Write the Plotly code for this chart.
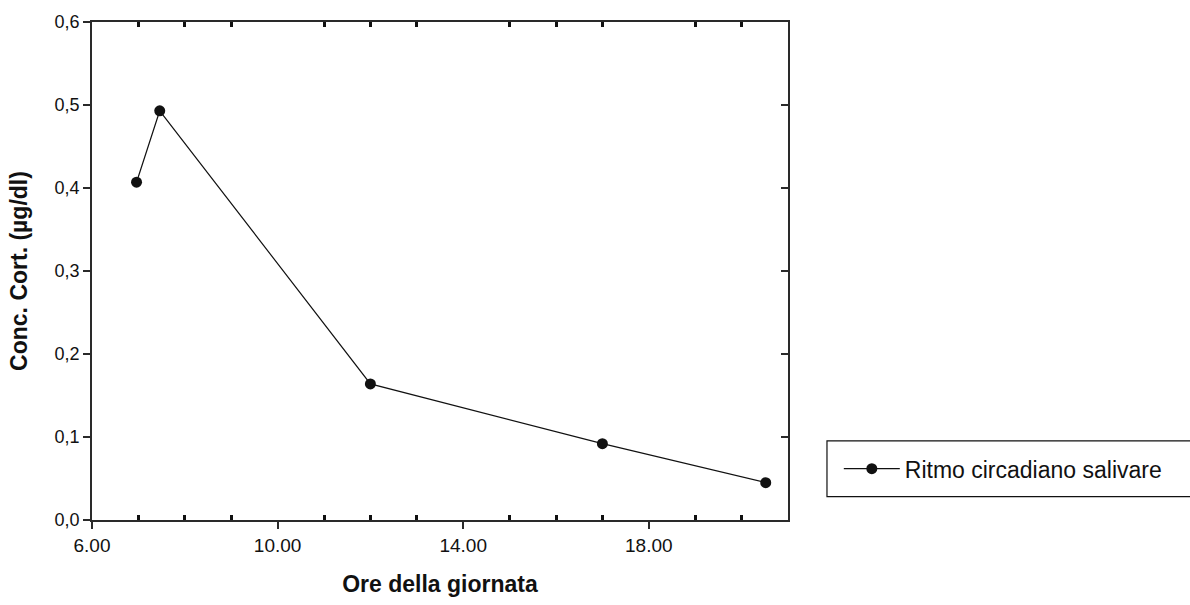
import plotly.graph_objects as go

# Data
hours = [6.96, 7.46, 12.0, 17.0, 20.52]
conc = [0.407, 0.493, 0.164, 0.092, 0.045]
series_name = "Ritmo circadiano salivare"

x_range = [6, 21]
y_range = [0, 0.6]
y_tickvals = [0, 0.1, 0.2, 0.3, 0.4, 0.5, 0.6]
y_ticktext = ["0,0", "0,1", "0,2", "0,3", "0,4", "0,5", "0,6"]
x_minor_vals = [7, 8, 9, 11, 12, 13, 15, 16, 17, 19, 20]

FONT = "Arial"
INK = "#111111"
FRAME = "#2a2a2a"

fig = go.Figure()
fig.add_trace(go.Scatter(
    x=hours, y=conc, mode="lines+markers", name=series_name,
    line=dict(color=INK, width=1.2),
    marker=dict(color=INK, size=11),
))
# invisible helper trace so the mirrored top/right axes get drawn
fig.add_trace(go.Scatter(
    x=hours, y=conc, mode="none", xaxis="x2", yaxis="y2",
    showlegend=False, hoverinfo="skip",
))

fig.update_layout(
    width=1190, height=605,
    margin=dict(l=92, r=402, t=21, b=82),
    paper_bgcolor="white", plot_bgcolor="white",
    font=dict(family=FONT, color=INK),
    showlegend=True,
    legend=dict(
        x=1.073, xanchor="left", y=0.103, yanchor="middle",
        bgcolor="rgba(0,0,0,0)", borderwidth=0,
        font=dict(family=FONT, size=23, color=INK),
        itemwidth=56,
    ),
    xaxis=dict(
        range=x_range, tickmode="linear", tick0=6, dtick=4, tickformat=".2f",
        ticks="outside", ticklen=7, tickwidth=1.5, tickcolor=FRAME,
        showline=True, linecolor=FRAME, linewidth=1.8, mirror=False,
        showgrid=False, zeroline=False,
        tickfont=dict(family=FONT, size=19, color=INK),
        minor=dict(tickmode="array", tickvals=x_minor_vals, ticks="inside", ticklen=5,
                   tickwidth=2.5, tickcolor=INK, showgrid=False),
        title=dict(text="<b>Ore della giornata</b>", standoff=21,
                   font=dict(family=FONT, size=23, color=INK)),
    ),
    yaxis=dict(
        range=y_range, tickmode="array", tickvals=y_tickvals, ticktext=y_ticktext,
        ticks="outside", ticklen=7, tickwidth=2, tickcolor=FRAME,
        showline=True, linecolor=FRAME, linewidth=1.8,
        showgrid=False, zeroline=False,
        tickfont=dict(family=FONT, size=18, color=INK),
        title=dict(text="<b>Conc. Cort. (µg/dl)</b>", standoff=20,
                   font=dict(family=FONT, size=23, color=INK)),
    ),
    xaxis2=dict(
        overlaying="x", side="top", anchor="y2", range=x_range,
        tickmode="array", tickvals=x_minor_vals, ticks="inside", ticklen=5,
        tickwidth=2.5, tickcolor=INK, showticklabels=False,
        showline=True, linecolor=FRAME, linewidth=1.8,
        showgrid=False, zeroline=False,
    ),
    yaxis2=dict(
        overlaying="y", side="right", anchor="x2", range=y_range,
        tickmode="array", tickvals=y_tickvals, ticks="inside", ticklen=7,
        tickwidth=2, tickcolor=FRAME, showticklabels=False,
        showline=True, linecolor=FRAME, linewidth=1.8,
        showgrid=False, zeroline=False,
    ),
    shapes=[dict(
        type="rect", xref="paper", yref="paper",
        x0=1.056, x1=1.58, y0=0.047, y1=0.159,
        line=dict(color=INK, width=1.2), fillcolor="rgba(0,0,0,0)",
    )],
)

fig.write_html("out.html")
